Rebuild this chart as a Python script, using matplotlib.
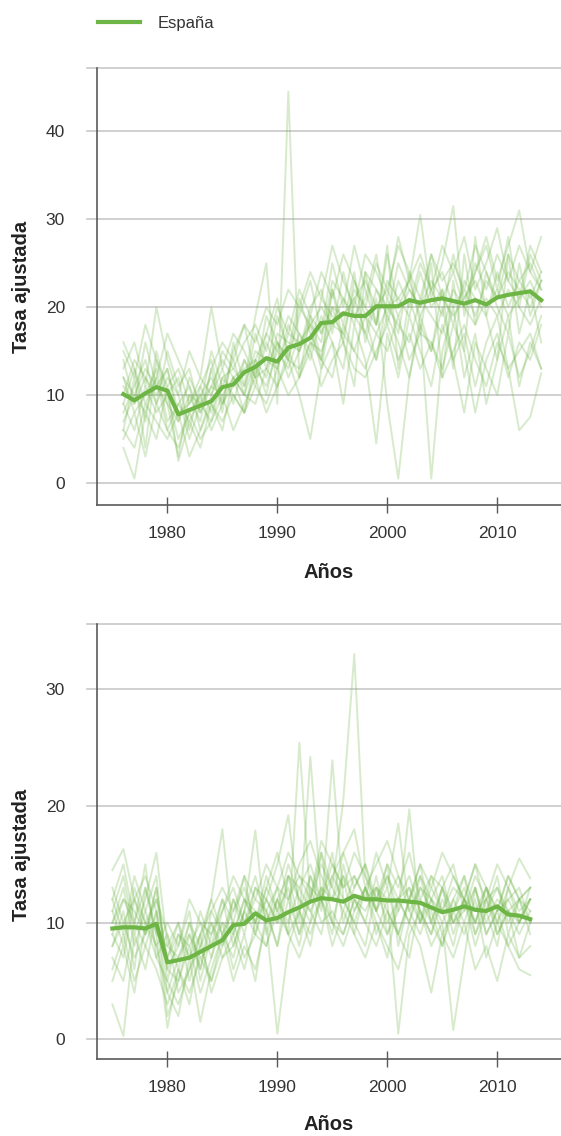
import matplotlib
matplotlib.use("Agg")
from matplotlib import pyplot as plt

plt.rcParams['font.family'] = ['Liberation Sans', 'DejaVu Sans']

# ---- panel 1 (1976-2014) ----
years_1 = list(range(1976, 2015))
spain_1 = [10.1, 9.4, 10.2, 10.9, 10.5, 7.8, 8.3, 8.8, 9.3, 10.9,
           11.2, 12.6, 13.2, 14.2, 13.8, 15.4, 15.8, 16.5, 18.2, 18.3,
           19.3, 19.0, 19.0, 20.1, 20.1, 20.1, 20.8, 20.5, 20.8, 21.0,
           20.7, 20.4, 20.8, 20.3, 21.1, 21.4, 21.6, 21.8, 20.8]
provs_1 = [
    [6, 12, 4, 14, 9, 3, 10, 7, 13, 8, 16, 11, 19, 25, 9, 44.5, 12, 19, 14, 22, 16, 11, 24, 18, 27, 13, 21, 17, 25, 12, 23, 15, 28, 19, 14, 26, 17, 22, 16],
    [14, 9, 16, 11, 13, 7, 12, 9, 15, 11, 14, 10, 17, 13, 19, 15, 21, 17, 14, 22, 18, 24, 16, 21, 9, 0.5, 12, 19, 15, 22, 13, 26, 18, 24, 20, 17, 25, 19, 23],
    [4, 0.5, 8, 5, 11, 2.5, 7, 4, 9, 6, 12, 8, 14, 10, 16, 12, 15, 18, 13, 20, 16, 23, 19, 14, 21, 17, 24, 18, 0.5, 15, 20, 12, 17, 9, 14, 19, 11, 16, 13],
    [9, 13, 7, 15, 10, 12, 6, 11, 14, 9, 15, 18, 12, 17, 21, 14, 19, 23, 17, 25, 20, 27, 22, 18, 26, 20, 23, 30.5, 21, 25, 31.5, 19, 24, 27, 22, 28, 20, 26, 23],
    [12, 8, 10, 13, 7, 9, 11, 6, 10, 13, 9, 14, 11, 16, 13, 18, 15, 20, 22, 17, 24, 19, 21, 26, 18, 23, 20, 25, 22, 19, 26, 21, 24, 28, 23, 27, 31, 24, 28],
    [8, 11, 14, 9, 12, 10, 5, 9, 7, 12, 10, 8, 13, 11, 15, 13, 17, 14, 19, 16, 13, 21, 17, 14, 19, 16, 12, 18, 15, 20, 14, 17, 11, 16, 19, 13, 6, 7.5, 12.5],
    [11, 9, 12, 10, 13, 8, 9, 11, 8, 12, 13, 11, 15, 14, 13, 17, 16, 18, 20, 18, 21, 19, 17, 22, 20, 21, 23, 19, 22, 24, 20, 22, 19, 23, 21, 24, 22, 20, 23],
    [7, 10, 8, 12, 6, 9, 7, 10, 12, 9, 11, 14, 12, 13, 16, 14, 13, 16, 15, 18, 17, 15, 19, 17, 20, 18, 16, 21, 19, 17, 22, 20, 18, 21, 19, 22, 20, 18, 21],
    [15, 12, 18, 14, 11, 13, 9, 12, 10, 15, 13, 16, 18, 15, 20, 17, 22, 19, 24, 21, 26, 23, 20, 25, 22, 27, 24, 21, 26, 23, 25, 22, 27, 24, 21, 26, 23, 25, 22],
    [5, 8, 3, 9, 6, 4, 8, 5, 7, 10, 6, 9, 12, 8, 11, 14, 10, 5, 13, 16, 9, 18, 14, 4.5, 17, 12, 19, 15, 11, 18, 14, 8, 16, 13, 10, 17, 12, 15, 19],
    [10, 14, 12, 9, 15, 11, 13, 8, 11, 14, 12, 10, 14, 17, 15, 19, 17, 15, 21, 19, 17, 22, 20, 18, 23, 21, 19, 24, 20, 22, 18, 23, 21, 19, 24, 20, 23, 21, 24],
    [13, 16, 11, 20, 14, 10, 15, 12, 20, 13, 17, 15, 12, 19, 16, 14, 20, 18, 16, 23, 21, 18, 24, 22, 19, 25, 22, 20, 26, 21, 24, 20, 25, 22, 26, 23, 21, 27, 24],
    [9, 6, 11, 8, 10, 5, 8, 10, 6, 9, 12, 10, 9, 13, 11, 15, 12, 16, 14, 12, 18, 15, 13, 17, 15, 19, 14, 17, 16, 13, 18, 15, 8, 14, 17, 12, 16, 14, 18],
    [12, 10, 13, 11, 9, 7, 10, 9, 11, 10, 12, 13, 14, 12, 17, 16, 15, 19, 17, 20, 19, 21, 23, 20, 22, 19, 22, 20, 23, 21, 19, 21, 23, 20, 22, 19, 21, 23, 20],
    [16, 13, 9, 12, 17, 14, 11, 8, 13, 16, 14, 18, 16, 20, 18, 22, 20, 24, 21, 27, 23, 20, 26, 24, 21, 28, 23, 26, 22, 27, 24, 28, 22, 25, 29, 23, 27, 24, 22],
    [6, 4, 9, 7, 5, 8, 3, 6, 9, 7, 10, 8, 11, 9, 13, 10, 12, 15, 11, 14, 16, 13, 12, 15, 18, 14, 17, 13, 16, 12, 15, 18, 14, 11, 16, 13, 15, 17, 13],
]

# ---- panel 2 (1975-2013) ----
years_2 = list(range(1975, 2014))
spain_2 = [9.5, 9.6, 9.6, 9.5, 9.9, 6.6, 6.8, 7.0, 7.5, 8.0,
           8.5, 9.8, 9.9, 10.8, 10.2, 10.4, 10.9, 11.3, 11.8, 12.1,
           12.0, 11.8, 12.3, 12.0, 12.0, 11.9, 11.9, 11.8, 11.7, 11.3,
           10.9, 11.1, 11.4, 11.1, 11.0, 11.4, 10.7, 10.6, 10.3]
provs_2 = [
    [10, 13, 8, 11, 14, 5, 9, 7, 11, 8, 12, 10, 14, 9, 13, 11, 15, 12, 10, 16, 13, 20.5, 33, 14, 11, 13, 9, 12, 15, 10, 13, 11, 14, 9, 12, 10, 13, 11, 12],
    [14.5, 16.3, 12, 9, 13, 6, 8, 11, 5, 9, 12, 8, 11, 14, 10, 13, 9, 25.4, 12, 16, 10, 14, 9, 13, 11, 15, 8, 12, 14, 10, 13, 9, 12, 15, 11, 8, 13, 10, 12],
    [12, 9, 14, 11, 8, 4, 7, 9, 6, 10, 8, 12, 9, 13, 11, 8, 14, 10, 24.2, 12, 9, 15, 11, 13, 10, 7, 12, 14, 11, 9, 13, 10, 12, 8, 11, 14, 9, 12, 10],
    [3, 0.3, 9, 6, 11, 2, 5, 8, 4, 7, 10, 6, 9, 5, 11, 8, 12, 9, 14, 11, 23.9, 12, 10, 8, 13, 11, 9, 12, 10, 14, 11, 8, 12, 10, 13, 9, 11, 7, 10],
    [9, 12, 10, 15, 7, 9, 6, 10, 8, 12, 9, 11, 13, 10, 12, 15, 19.2, 11, 14, 12, 16, 10, 13, 15, 12, 14, 11, 19.7, 10, 13, 11, 14, 12, 10, 13, 11, 14, 12, 9],
    [11, 8, 13, 10, 12, 7, 10, 5, 9, 12, 18, 9, 12, 10, 14, 11, 13, 9, 12, 15, 13, 11, 14, 12, 16, 13, 18.5, 11, 9, 12, 14, 10, 12, 9, 11, 13, 10, 12, 11],
    [8, 11, 6, 13, 9, 1, 6, 3, 8, 5, 9, 7, 11, 17.9, 9, 12, 10, 13, 11, 9, 14, 12, 10, 13, 11, 9, 12, 10, 13, 11, 8, 12, 10, 13, 9, 11, 12, 10, 13],
    [6, 9, 5, 8, 11, 4, 2, 7, 1.5, 6, 9, 5, 8, 6, 10, 0.5, 8, 11, 9, 12, 10, 8, 11, 13, 9, 12, 0.5, 9, 11, 8, 10, 0.8, 7, 13, 9, 11, 8, 10, 12],
    [13, 10, 12, 14, 11, 7, 9, 8, 10, 9, 11, 13, 10, 12, 11, 13, 12, 14, 13, 12, 15, 13, 14, 12, 13, 12, 14, 11, 13, 12, 11, 13, 12, 11, 12, 13, 11, 12, 13],
    [7, 5, 10, 8, 6, 3, 6, 4, 7, 5, 8, 10, 7, 9, 8, 11, 9, 7, 10, 12, 8, 11, 9, 7, 10, 8, 6, 10, 8, 4, 9, 7, 10, 6, 8, 5, 9, 7, 8],
    [11, 14, 9, 12, 16, 8, 10, 7, 9, 11, 13, 11, 14, 12, 15, 13, 16, 14, 12, 17, 15, 13, 16, 14, 12, 15, 13, 16, 12, 14, 13, 15, 11, 14, 12, 15, 13, 15.5, 13.8],
    [10, 12, 11, 9, 13, 6, 5, 9, 7, 8, 10, 9, 12, 11, 10, 12, 14, 12, 11, 13, 12, 14, 12, 11, 13, 10, 12, 13, 11, 9, 12, 10, 11, 13, 10, 12, 11, 9, 11],
    [5, 8, 4, 10, 7, 5, 3, 6, 9, 4, 7, 9, 6, 10, 8, 12, 9, 11, 8, 13, 10, 9, 12, 10, 8, 11, 9, 7, 12, 10, 8, 11, 9, 12, 7, 10, 8, 6, 5.5],
    [12, 15, 10, 13, 9, 8, 7, 10, 6, 11, 9, 12, 10, 13, 12, 10, 14, 13, 15, 12, 14, 16, 13, 15, 11, 14, 12, 10, 14, 12, 10, 12, 14, 11, 13, 10, 12, 13, 10],
    [9, 7, 12, 10, 8, 10, 8, 12, 10, 7, 11, 14, 12, 10, 13, 16, 12, 15, 17, 14, 12, 16, 18, 13, 15, 17, 14, 12, 15, 13, 16, 14, 12, 15, 13, 11, 14, 12, 13],
    [8, 10, 7, 9, 12, 9, 4, 6, 8, 10, 7, 8, 11, 9, 12, 10, 11, 8, 13, 10, 11, 9, 12, 10, 14, 9, 11, 13, 10, 12, 9, 11, 13, 10, 12, 9, 11, 10, 12],
]

xticks = [1980, 1990, 2000, 2010]
green = '#6db545'
grid_c = '#c4c4c4'
spine_c = '#5a5a5a'
text_c = '#333333'

fig = plt.figure(figsize=(5.61, 11.36), dpi=100)
ax1 = fig.add_axes([0.1729, 0.5555, 0.8271, 0.3846])
ax2 = fig.add_axes([0.1729, 0.0675, 0.8271, 0.3835])


def draw(ax, years, provs, spain, yticks, ylim, ylab_y, xlab_y):
    for p in provs:
        ax.plot(years, p, color=green, alpha=0.27, lw=1.4)
    line, = ax.plot(years, spain, color=green, lw=3.0, label='España', zorder=5)
    ax.set_xlim(1973.6, 2015.8)
    ax.set_ylim(*ylim)
    for y in yticks + [ylim[1]]:
        ax.axhline(y, xmin=-0.021, xmax=1, color=grid_c, lw=1.1, zorder=0, clip_on=False)
    ax.set_yticks(yticks)
    ax.set_xticks(xticks)
    ax.tick_params(axis='y', length=0, pad=23, labelsize=12.5, labelcolor=text_c)
    ax.tick_params(axis='x', direction='inout', length=12, width=1, color=spine_c,
                   pad=9, labelsize=12.5, labelcolor=text_c)
    for s in ['top', 'right']:
        ax.spines[s].set_visible(False)
    for s in ['left', 'bottom']:
        ax.spines[s].set_color(spine_c)
        ax.spines[s].set_linewidth(1.2)
    ax.set_xlabel('Años', fontsize=14.5, fontweight='bold', color='#222222')
    ax.set_ylabel('Tasa ajustada', fontsize=14.5, fontweight='bold', color='#222222')
    ax.yaxis.set_label_coords(-0.143, ylab_y)
    ax.xaxis.set_label_coords(0.5, xlab_y)
    return line


line = draw(ax1, years_1, provs_1, spain_1, [0, 10, 20, 30, 40], (-2.5, 47.2), 0.5, -0.132)
draw(ax2, years_2, provs_2, spain_2, [0, 10, 20, 30], (-1.7, 35.6), 0.47, -0.128)

fig.legend(handles=[line], loc='center left', bbox_to_anchor=(0.148, 0.9792),
           frameon=False, fontsize=12, handlelength=2.5, handletextpad=1.05,
           labelcolor=text_c)

fig.savefig('out.png', dpi=100)
